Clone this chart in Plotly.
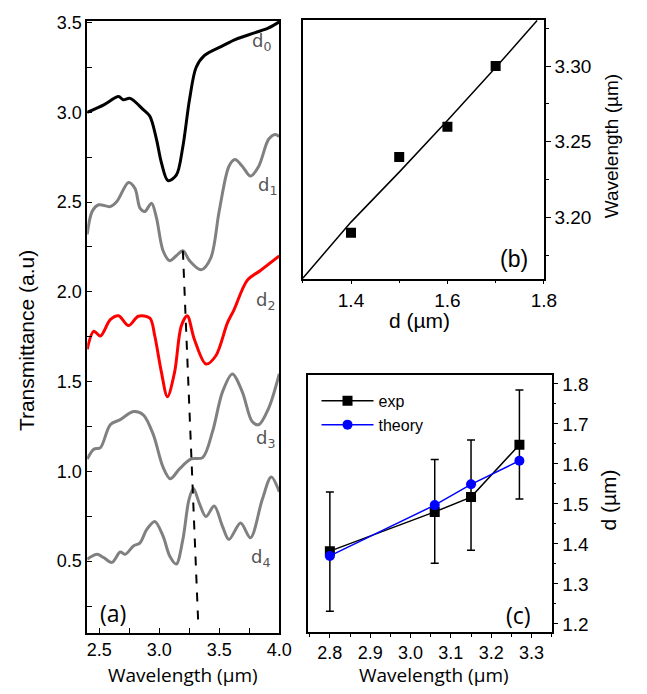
import plotly.graph_objects as go

# ---------------- Panel (a): transmittance spectra ----------------
d0_x = [2.40, 2.538, 2.661, 2.70, 2.757, 2.867, 2.922, 2.977, 3.018, 3.073, 3.142, 3.197, 3.252, 3.307, 3.375, 3.527, 3.637, 3.80, 3.911, 4.00]
d0_y = [3.00, 3.042, 3.088, 3.07, 3.078, 3.015, 2.978, 2.85, 2.72, 2.62, 2.65, 2.81, 3.07, 3.25, 3.316, 3.37, 3.407, 3.444, 3.47, 3.504]

d1_x = [2.40, 2.441, 2.496, 2.592, 2.647, 2.744, 2.798, 2.84, 2.88, 2.936, 2.977, 3.032, 3.087, 3.142, 3.197, 3.252, 3.348, 3.43, 3.499, 3.581, 3.631, 3.692, 3.76, 3.829, 3.911, 3.966, 4.00]
d1_y = [2.32, 2.448, 2.485, 2.475, 2.503, 2.609, 2.576, 2.466, 2.448, 2.494, 2.412, 2.229, 2.174, 2.201, 2.229, 2.174, 2.123, 2.19, 2.448, 2.70, 2.737, 2.70, 2.645, 2.70, 2.85, 2.877, 2.865]

d2_x = [2.40, 2.455, 2.51, 2.592, 2.661, 2.744, 2.826, 2.922, 2.963, 3.018, 3.068, 3.128, 3.183, 3.233, 3.293, 3.389, 3.472, 3.568, 3.623, 3.733, 3.843, 4.00]
d2_y = [1.68, 1.781, 1.754, 1.845, 1.867, 1.812, 1.864, 1.854, 1.754, 1.553, 1.416, 1.553, 1.809, 1.867, 1.735, 1.598, 1.644, 1.827, 1.90, 2.064, 2.119, 2.20]

d3_x = [2.40, 2.455, 2.51, 2.592, 2.675, 2.785, 2.867, 2.95, 3.032, 3.092, 3.169, 3.266, 3.362, 3.445, 3.527, 3.609, 3.692, 3.774, 3.829, 3.911, 4.00]
d3_y = [1.068, 1.123, 1.132, 1.26, 1.288, 1.333, 1.315, 1.206, 1.023, 0.959, 1.014, 1.069, 1.077, 1.224, 1.443, 1.543, 1.443, 1.278, 1.26, 1.351, 1.543]

d4_x = [2.40, 2.482, 2.537, 2.606, 2.675, 2.716, 2.785, 2.84, 2.895, 2.963, 3.032, 3.087, 3.142, 3.197, 3.247, 3.285, 3.334, 3.389, 3.458, 3.527, 3.581, 3.678, 3.76, 3.857, 3.933, 4.00]
d4_y = [0.511, 0.538, 0.52, 0.493, 0.551, 0.538, 0.584, 0.602, 0.675, 0.721, 0.639, 0.529, 0.484, 0.621, 0.84, 0.904, 0.822, 0.748, 0.807, 0.694, 0.621, 0.712, 0.630, 0.84, 0.968, 0.886]

guide_x = [3.197, 3.326]
guide_y = [2.229, 0.136]

curve_labels = ["d<sub>0</sub>", "d<sub>1</sub>", "d<sub>2</sub>", "d<sub>3</sub>", "d<sub>4</sub>"]
label_x = [3.85, 3.90, 3.885, 3.885, 3.84]
label_y = [3.39, 2.59, 1.95, 1.18, 0.52]

# ---------------- Panel (b): wavelength vs d ----------------
b_d = [1.4, 1.5, 1.6, 1.7]
b_wl = [3.19, 3.24, 3.26, 3.30]
b_fit_d = [1.3, 1.4, 1.5, 1.6, 1.7, 1.786]
b_fit_wl = [3.16, 3.197, 3.23, 3.264, 3.299, 3.33]

# ---------------- Panel (c): d vs wavelength ----------------
c_wl = [2.80, 3.06, 3.15, 3.27]
c_exp = [1.382, 1.48, 1.517, 1.648]
c_err_plus = [0.148, 0.131, 0.143, 0.137]
c_err_minus = [0.150, 0.128, 0.133, 0.136]
c_theory = [1.37, 1.497, 1.549, 1.608]

W, H = 647, 694
def fx(px): return px / W
def fy(py): return 1 - py / H

fig = go.Figure()

line_w = 3
for xs, ys, col in [(d0_x, d0_y, "black"), (d1_x, d1_y, "#808080"), (d2_x, d2_y, "#ff0000"),
                    (d3_x, d3_y, "#808080"), (d4_x, d4_y, "#808080")]:
    fig.add_trace(go.Scatter(x=xs, y=ys, mode="lines", line=dict(color=col, width=line_w, shape="spline", smoothing=0.9),
                             xaxis="x", yaxis="y", showlegend=False))
fig.add_trace(go.Scatter(x=guide_x, y=guide_y, mode="lines", line=dict(color="black", width=2, dash="dash"),
                         xaxis="x", yaxis="y", showlegend=False))

fig.add_trace(go.Scatter(x=b_fit_d, y=b_fit_wl, mode="lines", line=dict(color="black", width=1.5),
                         xaxis="x2", yaxis="y2", showlegend=False))
fig.add_trace(go.Scatter(x=b_d, y=b_wl, mode="markers", marker=dict(symbol="square", size=10, color="black"),
                         xaxis="x2", yaxis="y2", showlegend=False))

fig.add_trace(go.Scatter(x=c_wl, y=c_exp, mode="lines+markers", name="exp",
                         line=dict(color="black", width=1.5),
                         marker=dict(symbol="square", size=10, color="black"),
                         error_y=dict(type="data", array=c_err_plus, arrayminus=c_err_minus, color="black", thickness=1.5, width=4),
                         xaxis="x3", yaxis="y3"))
fig.add_trace(go.Scatter(x=c_wl, y=c_theory, mode="lines+markers", name="theory",
                         line=dict(color="#0000ff", width=1.5),
                         marker=dict(symbol="circle", size=10, color="#0000ff"),
                         xaxis="x3", yaxis="y3"))

tick_font = dict(family="Liberation Sans, Arial, sans-serif", size=18, color="black")
tick_font2 = dict(family="Liberation Sans, Arial, sans-serif", size=19, color="black")
ax_common = dict(showline=True, linecolor="black", linewidth=1.5, mirror=True, showgrid=False, zeroline=False,
                 tickcolor="black", tickwidth=1.2)

fig.update_layout(
    width=W, height=H, margin=dict(l=0, r=0, t=0, b=0),
    plot_bgcolor="white", paper_bgcolor="white",
    xaxis=dict(domain=[fx(89), fx(285)], range=[2.4, 4.0], anchor="y", dtick=0.5, tickformat=".1f",
               ticks="inside", ticklen=5, minor=dict(dtick=0.25, ticks="inside", ticklen=5, tickcolor="black"),
               tickfont=tick_font, **ax_common),
    yaxis=dict(domain=[fy(635), fy(13)], range=[0.1, 3.51], anchor="x", tickvals=[0.5, 1.0, 1.5, 2.0, 2.5, 3.0, 3.5],
               tickformat=".1f", ticks="inside", ticklen=5,
               minor=dict(tickvals=[0.25, 0.75, 1.25, 1.75, 2.25, 2.75, 3.25], ticks="inside", ticklen=5, tickcolor="black"),
               tickfont=tick_font, **ax_common),
    xaxis2=dict(domain=[fx(309), fx(555)], range=[1.3, 1.8], anchor="y2", dtick=0.2, tickformat=".1f",
                ticks="outside", ticklen=4, ticklabelstandoff=0,
                minor=dict(dtick=0.1, ticks="outside", ticklen=3, tickcolor="black"),
                tickfont=tick_font2, **ax_common),
    yaxis2=dict(domain=[fy(275), fy(12)], range=[3.1597, 3.3305], anchor="x2", side="right",
                tickvals=[3.20, 3.25, 3.30], tickformat=".2f", ticks="outside", ticklen=5,
                minor=dict(tickvals=[3.175, 3.225, 3.275, 3.325], ticks="outside", ticklen=3, tickcolor="black"),
                tickfont=tick_font2, **ax_common),
    xaxis3=dict(domain=[fx(314), fx(563)], range=[2.745, 3.35], anchor="y3", dtick=0.1, tickformat=".1f",
                ticks="outside", ticklen=4, minor=dict(dtick=0.05, ticks="outside", ticklen=3, tickcolor="black"),
                tickfont=tick_font, **ax_common),
    yaxis3=dict(domain=[fy(634), fy(373)], range=[1.18, 1.822], anchor="x3", side="right", dtick=0.1, tickformat=".1f",
                ticks="outside", ticklen=5, minor=dict(dtick=0.05, ticks="outside", ticklen=3, tickcolor="black"),
                tickfont=tick_font2, **ax_common),
    legend=dict(x=fx(323), y=fy(382), xanchor="left", yanchor="top", bgcolor="rgba(0,0,0,0)",
                font=dict(family="Liberation Sans, Arial, sans-serif", size=16, color="black"),
                itemwidth=52, tracegroupgap=0),
)

title_font = dict(family="Liberation Sans, Arial, sans-serif", size=21, color="black")
title_font_b = dict(family="Liberation Sans, Arial, sans-serif", size=19, color="black")
title_font2 = dict(family="Open Sans, sans-serif", size=19, color="black")
title_font3 = dict(family="Liberation Sans, Arial, sans-serif", size=21, color="black")
ann = [
    dict(text="Transmittance (a.u)", x=fx(27), y=fy(338), textangle=-90, font=title_font),
    dict(text="Wavelength (µm)", x=fx(187), y=fy(678), font=title_font2),
    dict(text="d (µm)", x=fx(428), y=fy(318), font=title_font3),
    dict(text="Wavelength (µm)", x=fx(624), y=fy(140), textangle=-90, font=title_font_b),
    dict(text="d (µm)", x=fx(621), y=fy(500), textangle=-90, font=title_font3),
    dict(text="Wavelength (µm)", x=fx(443), y=fy(678), font=title_font2),
    dict(text="(a)", x=fx(115), y=fy(615), font=dict(family="Open Sans, sans-serif", size=23, color="black")),
    dict(text="(b)", x=fx(525), y=fy(255), font=dict(family="Liberation Sans, Arial, sans-serif", size=23, color="black")),
    dict(text="(c)", x=fx(529), y=fy(617), font=dict(family="Open Sans, sans-serif", size=23, color="black")),
]
for a in ann:
    fig.add_annotation(xref="paper", yref="paper", showarrow=False, xanchor="center", yanchor="middle", **a)

for t, lx, ly in zip(curve_labels, label_x, label_y):
    fig.add_annotation(xref="x", yref="y", x=lx, y=ly, text=t, showarrow=False,
                       font=dict(family="DejaVu Sans, sans-serif", size=18, color="#555555"))

fig.write_html("out.html")
